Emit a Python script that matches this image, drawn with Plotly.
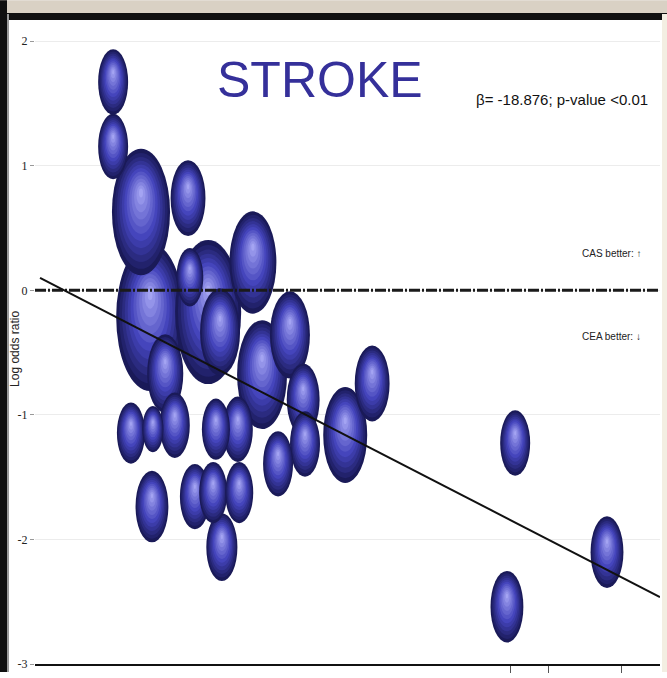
import plotly.graph_objects as go
import numpy as np

# ---- data ----
covariate = [0.0171, 0.0171, 0.0232, 0.0335, 0.0252, 0.0379, 0.0477, 0.0339, 0.0405, 0.0497,
             0.0558, 0.0285, 0.0210, 0.0258, 0.0306, 0.0396, 0.0444, 0.0587, 0.0591, 0.0679,
             0.0738, 0.0532, 0.0256, 0.0350, 0.0390, 0.0447, 0.0409, 0.1051, 0.1033, 0.1252]
log_or = [1.672, 1.154, 0.629, 0.740, -0.215, -0.175, 0.223, 0.104, -0.334, -0.677,
          -0.358, -0.669, -1.146, -1.115, -1.083, -1.115, -1.115, -0.876, -1.234, -1.162,
          -0.748, -1.393, -1.736, -1.656, -1.624, -1.624, -2.062, -1.226, -2.540, -2.102]
weight = [4.0, 4.0, 15.0, 5.4, 20.5, 19.4, 9.8, 3.2, 7.1, 11.1,
          7.1, 5.8, 3.5, 2.0, 4.0, 3.5, 4.0, 4.8, 4.0, 8.6,
          5.4, 4.0, 4.8, 4.0, 3.5, 3.5, 4.3, 4.0, 4.8, 4.8]
beta = -18.876
intercept = 0.12
fit_x = [0.0011, 0.1368]
y_ticks = [-3, -2, -1, 0, 1, 2]
x_ticks = [0.1040, 0.1125, 0.1283]

# ---- geometry ----
W, H = 667, 678
ML, MR, MT, MB = 35, 7, 20, 8
XR = [0, 0.1368]
YR = [-3, 2.17]
pw, ph = W - ML - MR, H - MT - MB
xpp = (XR[1] - XR[0]) / pw   # data units per pixel
ypp = (YR[1] - YR[0]) / ph

fig = go.Figure()


def mix(c1, c2, t):
    a = np.array([int(c1[i:i + 2], 16) for i in (1, 3, 5)], float)
    b = np.array([int(c2[i:i + 2], 16) for i in (1, 3, 5)], float)
    c = a + (b - a) * t
    return "#%02x%02x%02x" % tuple(int(round(v)) for v in c)


# shading layers: scale, upward offset (fraction of height), colour
NL = 12
layers = []
for k in range(NL):
    t = k / (NL - 1)
    s = 1.0 - 0.93 * t
    off = 0.15 * t ** 1.2
    if t < 0.45:
        col = mix("#1a1a58", "#4444bc", t / 0.45)
    else:
        col = mix("#4444bc", "#a4a4f2", (t - 0.45) / 0.55)
    layers.append((s, off, col))

shapes = []
order = np.argsort(-np.array(weight), kind="stable")
for i in order:
    wpx = 15 * np.sqrt(weight[i])
    hpx = 2.2 * wpx
    cx, cy = covariate[i], log_or[i]
    for s, off, col in layers:
        hw = wpx * s / 2 * xpp
        hh = hpx * s / 2 * ypp
        oy = off * hpx * ypp
        shapes.append(dict(type="circle", xref="x", yref="y",
                           x0=cx - hw, x1=cx + hw, y0=cy + oy - hh, y1=cy + oy + hh,
                           fillcolor=col, line=dict(width=0), layer="between"))

# hover markers (invisible)
fig.add_trace(go.Scatter(x=covariate, y=log_or, mode="markers",
                         marker=dict(size=1, opacity=0), showlegend=False))
# zero reference line
fig.add_trace(go.Scatter(x=XR, y=[0, 0], mode="lines",
                         line=dict(color="#1a1a1a", width=3, dash="11px,2px,2px,2px"),
                         showlegend=False, hoverinfo="skip"))
# regression line
fit_y = [intercept + beta * v for v in fit_x]
fig.add_trace(go.Scatter(x=fit_x, y=fit_y, mode="lines",
                         line=dict(color="#111111", width=2), showlegend=False,
                         hoverinfo="skip"))


# frame decorations (paper coords from pixel positions)
def px2x(p):
    return (p - ML) / pw


def py2y(p):
    return (H - MB - p) / ph


shapes += [
    dict(type="rect", xref="paper", yref="paper", x0=px2x(0), x1=px2x(W), y0=py2y(14), y1=py2y(0),
         fillcolor="#d9d1c4", line=dict(width=0), layer="above"),
    dict(type="rect", xref="paper", yref="paper", x0=px2x(0), x1=px2x(W), y0=py2y(20), y1=py2y(13),
         fillcolor="#101010", line=dict(width=0), layer="above"),
    dict(type="rect", xref="paper", yref="paper", x0=px2x(0), x1=px2x(7), y0=py2y(H), y1=py2y(0),
         fillcolor="#101010", line=dict(width=0), layer="above"),
    dict(type="rect", xref="paper", yref="paper", x0=px2x(7), x1=px2x(9), y0=py2y(H), y1=py2y(14),
         fillcolor="#9a9a9a", line=dict(width=0), layer="above"),
    dict(type="rect", xref="paper", yref="paper", x0=px2x(662), x1=px2x(W), y0=py2y(H), y1=py2y(14),
         fillcolor="#f3eee2", line=dict(width=0), layer="above"),
]

ann_common = dict(xref="paper", yref="paper", showarrow=False, yanchor="middle")
annotations = [
    dict(text="STROKE", x=px2x(320), y=py2y(81), xanchor="center",
         font=dict(family="Liberation Sans, Arial", size=50, color="#35309a"), **ann_common),
    dict(text="β= -18.876; p-value <0.01", x=px2x(562), y=py2y(100), xanchor="center",
         font=dict(family="Liberation Sans, Arial", size=15, color="#111111"), **ann_common),
    dict(text="CAS better: ↑", x=px2x(643), y=py2y(256), xanchor="right",
         font=dict(family="Liberation Sans, Arial", size=10, color="#222222"), **ann_common),
    dict(text="CEA better: ↓", x=px2x(643), y=py2y(339), xanchor="right",
         font=dict(family="Liberation Sans, Arial", size=10, color="#222222"), **ann_common),
    dict(text="Log odds ratio", x=px2x(15), y=py2y(352), xanchor="center", textangle=-90,
         font=dict(family="Liberation Sans, Arial", size=12, color="#222222"), **ann_common),
]

fig.update_layout(
    width=W, height=H,
    margin=dict(l=ML, r=MR, t=MT, b=MB),
    paper_bgcolor="white", plot_bgcolor="white",
    shapes=shapes, annotations=annotations,
    xaxis=dict(range=XR, showgrid=False, zeroline=False, showline=True, linecolor="#111111",
               linewidth=2, ticks="outside", ticklen=7, tickcolor="#555555",
               tickvals=x_ticks, showticklabels=False, fixedrange=True),
    yaxis=dict(range=YR, tickvals=y_ticks, ticktext=[str(v) for v in y_ticks],
               showgrid=True, gridcolor="#ececec", zeroline=False, showline=False,
               ticks="outside", ticklen=4, tickcolor="#999999",
               tickfont=dict(family="Liberation Serif", size=12, color="#222222"),
               fixedrange=True),
    showlegend=False,
)

fig.write_html("out.html")
